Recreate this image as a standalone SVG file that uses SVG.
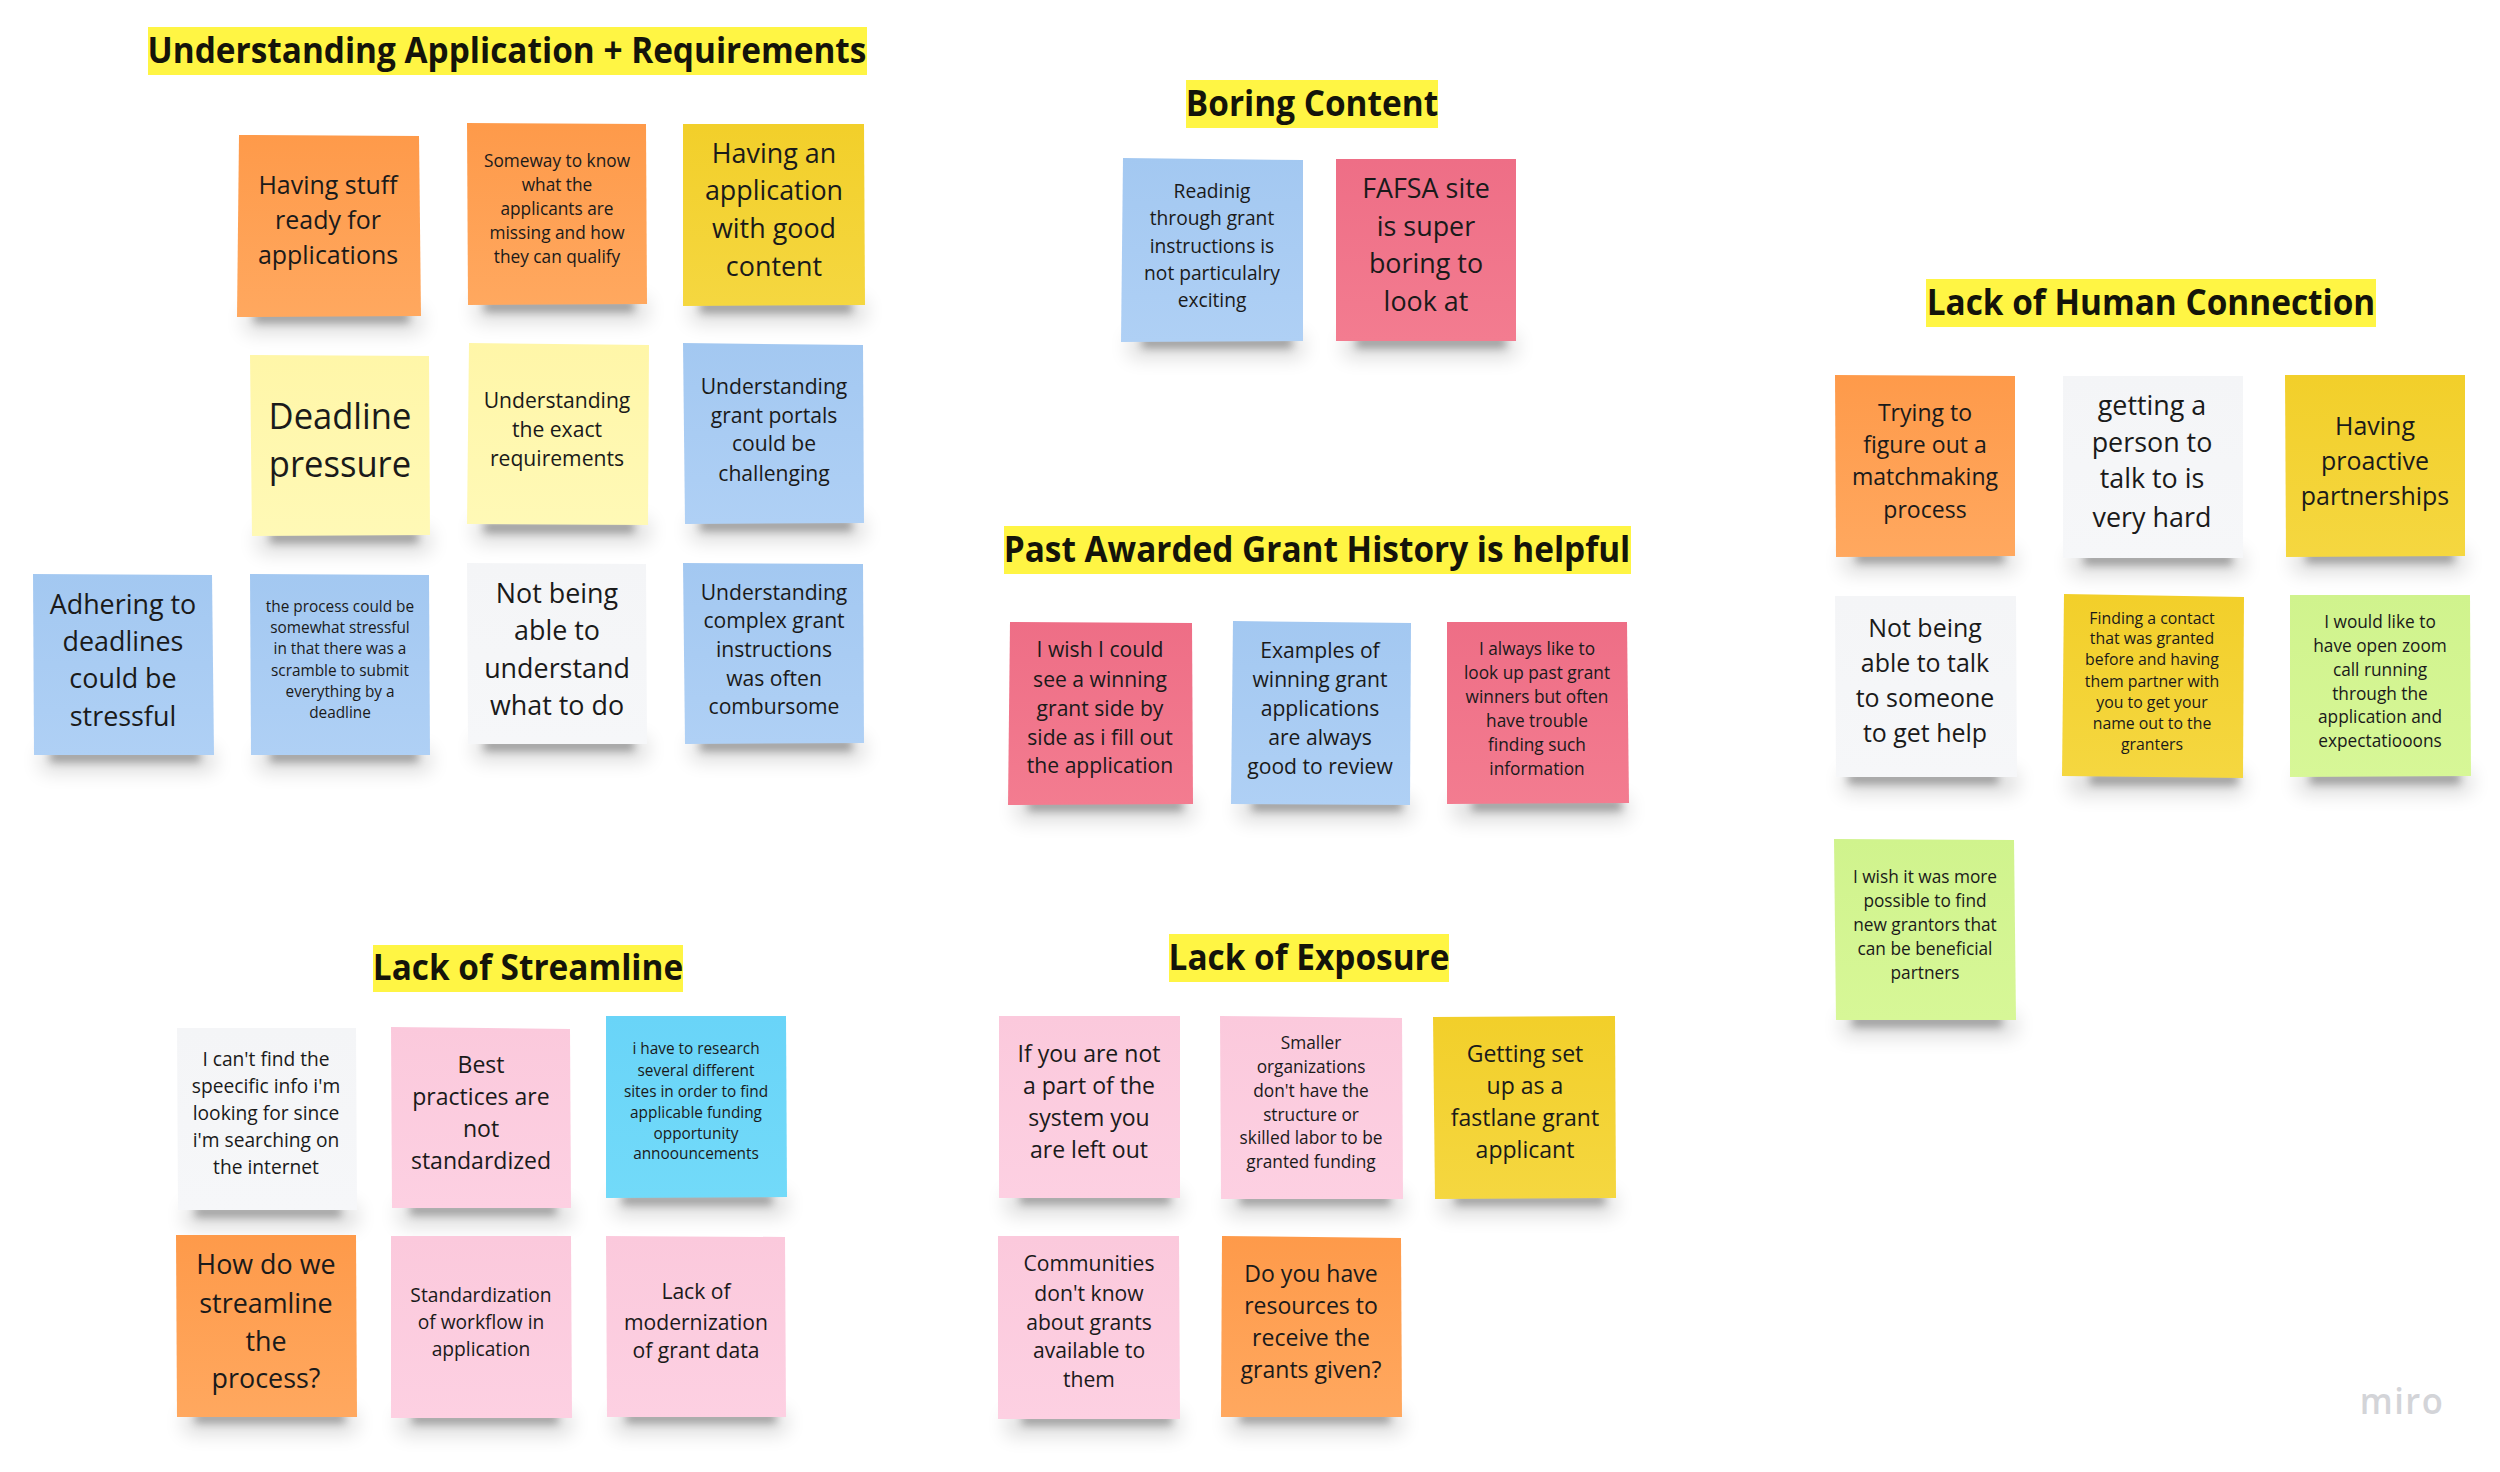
<svg xmlns="http://www.w3.org/2000/svg" width="2500" height="1472" viewBox="0 0 2500 1472">
<defs>
<filter id="blurTight" x="-20%" y="-100%" width="140%" height="300%"><feGaussianBlur stdDeviation="4.5"/></filter>
<filter id="blurWide" x="-20%" y="-100%" width="140%" height="300%"><feGaussianBlur stdDeviation="10"/></filter>
<linearGradient id="g-or" x1="0" y1="0" x2="0" y2="1"><stop offset="0" stop-color="#fe9a4a"/><stop offset="1" stop-color="#ffa85f"/></linearGradient>
<linearGradient id="g-ye" x1="0" y1="0" x2="0" y2="1"><stop offset="0" stop-color="#f2cf2a"/><stop offset="1" stop-color="#f5d740"/></linearGradient>
<linearGradient id="g-ly" x1="0" y1="0" x2="0" y2="1"><stop offset="0" stop-color="#fff6a8"/><stop offset="1" stop-color="#fff9b6"/></linearGradient>
<linearGradient id="g-bl" x1="0" y1="0" x2="0" y2="1"><stop offset="0" stop-color="#a3c8f1"/><stop offset="1" stop-color="#afd0f5"/></linearGradient>
<linearGradient id="g-wh" x1="0" y1="0" x2="0" y2="1"><stop offset="0" stop-color="#f4f5f7"/><stop offset="1" stop-color="#f6f7f9"/></linearGradient>
<linearGradient id="g-pk" x1="0" y1="0" x2="0" y2="1"><stop offset="0" stop-color="#fbc9dc"/><stop offset="1" stop-color="#fdd0e2"/></linearGradient>
<linearGradient id="g-rd" x1="0" y1="0" x2="0" y2="1"><stop offset="0" stop-color="#ee6e86"/><stop offset="1" stop-color="#f37c90"/></linearGradient>
<linearGradient id="g-cy" x1="0" y1="0" x2="0" y2="1"><stop offset="0" stop-color="#69d4f8"/><stop offset="1" stop-color="#72daf9"/></linearGradient>
<linearGradient id="g-lm" x1="0" y1="0" x2="0" y2="1"><stop offset="0" stop-color="#d0f38d"/><stop offset="1" stop-color="#d7f797"/></linearGradient>
</defs>
<style>
text{font-family:"Open Sans","Noto Sans","DejaVu Sans",sans-serif;fill:#1a1a1a;text-anchor:middle;dominant-baseline:central;transform-box:fill-box;transform-origin:center;transform:translateY(-1.5px) scaleX(.96)}
.title text{font-weight:700;font-size:36px;fill:#14140a;transform:translateY(-.5px) scaleX(.927)}
.hl{fill:#fff544}
.sa{fill:#000;opacity:.3;filter:url(#blurTight)}
.sb{fill:#000;opacity:.15;filter:url(#blurWide)}
.or{fill:url(#g-or)}.ye{fill:url(#g-ye)}.ly{fill:url(#g-ly)}.bl{fill:url(#g-bl)}.wh{fill:url(#g-wh)}
.pk{fill:url(#g-pk)}.rd{fill:url(#g-rd)}.cy{fill:url(#g-cy)}.lm{fill:url(#g-lm)}
.s16{font-size:16px}.s165{font-size:16.5px}.s18{font-size:18px}.s20{font-size:20px}
.s22{font-size:22px}.s24{font-size:24px}.s26{font-size:26px}.s28{font-size:28px}.s36{font-size:36px}
#logo{font-size:36px;font-weight:600;fill:#d3d4d8;letter-spacing:1.5px}
</style>
<rect width="2500" height="1472" fill="#fff"/>

<g id="title-understanding" class="title"><rect class="hl" x="148" y="27" width="719" height="48"/><text x="507" y="50">Understanding Application + Requirements</text></g>
<g id="title-boring" class="title"><rect class="hl" x="1186" y="80" width="252" height="48"/><text x="1312" y="103">Boring Content</text></g>
<g id="title-past" class="title"><rect class="hl" x="1004" y="526" width="627" height="48"/><text x="1317" y="549">Past Awarded Grant History is helpful</text></g>
<g id="title-human" class="title"><rect class="hl" x="1926" y="279" width="450" height="48"/><text x="2151" y="302">Lack of Human Connection</text></g>
<g id="title-streamline" class="title"><rect class="hl" x="373" y="945" width="310" height="47"/><text x="528" y="967">Lack of Streamline</text></g>
<g id="title-exposure" class="title"><rect class="hl" x="1169" y="934" width="280" height="48"/><text x="1309" y="957">Lack of Exposure</text></g>

<g id="note-a1"><rect class="sb" x="245" y="310" width="176" height="22"/><rect class="sa" x="254" y="311" width="155" height="12"/><polygon class="or" points="239,135 419,136 421,316 237,317"/><text class="s26"><tspan x="328" y="185">Having stuff</tspan><tspan x="328" y="220">ready for</tspan><tspan x="328" y="255">applications</tspan></text></g>
<g id="note-a2"><rect class="sb" x="475" y="299" width="172" height="22"/><rect class="sa" x="484" y="300" width="150" height="12"/><polygon class="or" points="467,123 646,124 647,304 468,305"/><text class="s18"><tspan x="557" y="161">Someway to know</tspan><tspan x="557" y="185">what the</tspan><tspan x="557" y="209">applicants are</tspan><tspan x="557" y="233">missing and how</tspan><tspan x="557" y="257">they can qualify</tspan></text></g>
<g id="note-a3"><rect class="sb" x="691" y="300" width="174" height="22"/><rect class="sa" x="700" y="301" width="152" height="12"/><polygon class="ye" points="683,124 864,124 865,305 683,306"/><text class="s28"><tspan x="774" y="153">Having an</tspan><tspan x="774" y="190">application</tspan><tspan x="774" y="228">with good</tspan><tspan x="774" y="266">content</tspan></text></g>
<g id="note-a4"><rect class="sb" x="258" y="530" width="172" height="22"/><rect class="sa" x="270" y="531" width="148" height="12"/><polygon class="ly" points="250,355 429,356 430,535 252,536"/><text class="s36"><tspan x="340" y="416">Deadline</tspan><tspan x="340" y="464">pressure</tspan></text></g>
<g id="note-a5"><rect class="sb" x="475" y="520" width="174" height="22"/><rect class="sa" x="484" y="521" width="150" height="12"/><polygon class="ly" points="469,343 649,345 648,525 467,524"/><text class="s22"><tspan x="557" y="400">Understanding</tspan><tspan x="557" y="429">the exact</tspan><tspan x="557" y="458">requirements</tspan></text></g>
<g id="note-a6"><rect class="sb" x="691" y="518" width="173" height="22"/><rect class="sa" x="700" y="519" width="152" height="12"/><polygon class="bl" points="683,343 863,345 864,523 685,524"/><text class="s22"><tspan x="774" y="386">Understanding</tspan><tspan x="774" y="415">grant portals</tspan><tspan x="774" y="443">could be</tspan><tspan x="774" y="473">challenging</tspan></text></g>
<g id="note-a7"><rect class="sb" x="41" y="749" width="173" height="22"/><rect class="sa" x="50" y="750" width="150" height="12"/><polygon class="bl" points="33,574 212,575 214,755 34,755"/><text class="s28"><tspan x="123" y="604">Adhering to</tspan><tspan x="123" y="641">deadlines</tspan><tspan x="123" y="678">could be</tspan><tspan x="123" y="716">stressful</tspan></text></g>
<g id="note-a8"><rect class="sb" x="258" y="749" width="172" height="22"/><rect class="sa" x="270" y="750" width="148" height="12"/><polygon class="bl" points="250,574 429,575 430,755 251,755"/><text class="s16"><tspan x="340" y="607">the process could be</tspan><tspan x="340" y="628">somewhat stressful</tspan><tspan x="340" y="649">in that there was a</tspan><tspan x="340" y="671">scramble to submit</tspan><tspan x="340" y="692">everything by a</tspan><tspan x="340" y="713">deadline</tspan></text></g>
<g id="note-a9"><rect class="sb" x="475" y="738" width="172" height="22"/><rect class="sa" x="484" y="739" width="150" height="12"/><polygon class="wh" points="467,563 646,564 647,744 468,744"/><text class="s28"><tspan x="557" y="593">Not being</tspan><tspan x="557" y="630">able to</tspan><tspan x="557" y="668">understand</tspan><tspan x="557" y="705">what to do</tspan></text></g>
<g id="note-a10"><rect class="sb" x="691" y="738" width="173" height="22"/><rect class="sa" x="700" y="739" width="152" height="12"/><polygon class="bl" points="683,563 863,564 864,743 685,744"/><text class="s22"><tspan x="774" y="592">Understanding</tspan><tspan x="774" y="620">complex grant</tspan><tspan x="774" y="649">instructions</tspan><tspan x="774" y="678">was often</tspan><tspan x="774" y="706">combursome</tspan></text></g>

<g id="note-b1"><rect class="sb" x="1129" y="335" width="174" height="22"/><rect class="sa" x="1142" y="336" width="150" height="12"/><polygon class="bl" points="1123,158 1303,160 1303,341 1121,342"/><text class="s20"><tspan x="1212" y="191">Readinig</tspan><tspan x="1212" y="218">through grant</tspan><tspan x="1212" y="246">instructions is</tspan><tspan x="1212" y="273">not particulalry</tspan><tspan x="1212" y="300">exciting</tspan></text></g>
<g id="note-b2"><rect class="sb" x="1344" y="335" width="172" height="22"/><rect class="sa" x="1356" y="336" width="150" height="12"/><polygon class="rd" points="1336,159 1516,159 1516,341 1336,341"/><text class="s28"><tspan x="1426" y="188">FAFSA site</tspan><tspan x="1426" y="226">is super</tspan><tspan x="1426" y="263">boring to</tspan><tspan x="1426" y="301">look at</tspan></text></g>

<g id="note-p1"><rect class="sb" x="1016" y="798" width="177" height="22"/><rect class="sa" x="1028" y="799" width="155" height="12"/><polygon class="rd" points="1010,622 1192,623 1193,804 1008,805"/><text class="s22"><tspan x="1100" y="649">I wish I could</tspan><tspan x="1100" y="679">see a winning</tspan><tspan x="1100" y="708">grant side by</tspan><tspan x="1100" y="737">side as i fill out</tspan><tspan x="1100" y="765">the application</tspan></text></g>
<g id="note-p2"><rect class="sb" x="1239" y="798" width="172" height="22"/><rect class="sa" x="1252" y="799" width="150" height="12"/><polygon class="bl" points="1233,621 1411,623 1410,805 1231,804"/><text class="s22"><tspan x="1320" y="650">Examples of</tspan><tspan x="1320" y="679">winning grant</tspan><tspan x="1320" y="708">applications</tspan><tspan x="1320" y="737">are always</tspan><tspan x="1320" y="766">good to review</tspan></text></g>
<g id="note-p3"><rect class="sb" x="1454" y="798" width="174" height="22"/><rect class="sa" x="1472" y="799" width="150" height="12"/><polygon class="rd" points="1447,622 1627,622 1629,803 1447,804"/><text class="s18"><tspan x="1537" y="649">I always like to</tspan><tspan x="1537" y="673">look up past grant</tspan><tspan x="1537" y="697">winners but often</tspan><tspan x="1537" y="721">have trouble</tspan><tspan x="1537" y="745">finding such</tspan><tspan x="1537" y="769">information</tspan></text></g>

<g id="note-h1"><rect class="sb" x="1843" y="550" width="172" height="22"/><rect class="sa" x="1856" y="551" width="148" height="12"/><polygon class="or" points="1835,375 2015,376 2015,556 1836,557"/><text class="s24"><tspan x="1925" y="413">Trying to</tspan><tspan x="1925" y="445">figure out a</tspan><tspan x="1925" y="477">matchmaking</tspan><tspan x="1925" y="510">process</tspan></text></g>
<g id="note-h2"><rect class="sb" x="2071" y="552" width="172" height="22"/><rect class="sa" x="2084" y="553" width="148" height="12"/><polygon class="wh" points="2063,376 2243,376 2243,558 2063,558"/><text class="s28"><tspan x="2152" y="405">getting a</tspan><tspan x="2152" y="442">person to</tspan><tspan x="2152" y="478">talk to is</tspan><tspan x="2152" y="517">very hard</tspan></text></g>
<g id="note-h3"><rect class="sb" x="2293" y="550" width="172" height="22"/><rect class="sa" x="2306" y="551" width="148" height="12"/><polygon class="ye" points="2285,375 2465,375 2465,556 2286,557"/><text class="s26"><tspan x="2375" y="426">Having</tspan><tspan x="2375" y="461">proactive</tspan><tspan x="2375" y="496">partnerships</tspan></text></g>
<g id="note-h4"><rect class="sb" x="1843" y="771" width="174" height="22"/><rect class="sa" x="1848" y="772" width="150" height="12"/><polygon class="wh" points="1835,596 2016,596 2017,777 1836,777"/><text class="s26"><tspan x="1925" y="628">Not being</tspan><tspan x="1925" y="663">able to talk</tspan><tspan x="1925" y="698">to someone</tspan><tspan x="1925" y="733">to get help</tspan></text></g>
<g id="note-h5"><rect class="sb" x="2070" y="772" width="174" height="22"/><rect class="sa" x="2090" y="773" width="148" height="12"/><polygon class="ye" points="2064,594 2244,597 2243,778 2062,776"/><text class="s165"><tspan x="2152" y="619">Finding a contact</tspan><tspan x="2152" y="639">that was granted</tspan><tspan x="2152" y="660">before and having</tspan><tspan x="2152" y="682">them partner with</tspan><tspan x="2152" y="703">you to get your</tspan><tspan x="2152" y="724">name out to the</tspan><tspan x="2152" y="745">granters</tspan></text></g>
<g id="note-h6"><rect class="sb" x="2298" y="771" width="173" height="22"/><rect class="sa" x="2310" y="772" width="150" height="12"/><polygon class="lm" points="2290,595 2470,595 2471,776 2290,777"/><text class="s18"><tspan x="2380" y="622">I would like to</tspan><tspan x="2380" y="646">have open zoom</tspan><tspan x="2380" y="670">call running</tspan><tspan x="2380" y="694">through the</tspan><tspan x="2380" y="717">application and</tspan><tspan x="2380" y="741">expectatiooons</tspan></text></g>
<g id="note-h7"><rect class="sb" x="1842" y="1014" width="174" height="22"/><rect class="sa" x="1852" y="1015" width="150" height="12"/><polygon class="lm" points="1834,839 2014,840 2016,1020 1836,1020"/><text class="s18"><tspan x="1925" y="877">I wish it was more</tspan><tspan x="1925" y="901">possible to find</tspan><tspan x="1925" y="925">new grantors that</tspan><tspan x="1925" y="949">can be beneficial</tspan><tspan x="1925" y="973">partners</tspan></text></g>

<g id="note-s1"><rect class="sb" x="185" y="1205" width="172" height="22"/><rect class="sa" x="195" y="1206" width="146" height="11"/><polygon class="wh" points="177,1028 356,1028 357,1210 178,1210"/><text class="s20"><tspan x="266" y="1059">I can't find the</tspan><tspan x="266" y="1086">speecific info i'm</tspan><tspan x="266" y="1113">looking for since</tspan><tspan x="266" y="1140">i'm searching on</tspan><tspan x="266" y="1167">the internet</tspan></text></g>
<g id="note-s2"><rect class="sb" x="399" y="1203" width="172" height="22"/><rect class="sa" x="410" y="1204" width="146" height="11"/><polygon class="pk" points="391,1027 570,1029 571,1208 392,1208"/><text class="s24"><tspan x="481" y="1065">Best</tspan><tspan x="481" y="1097">practices are</tspan><tspan x="481" y="1129">not</tspan><tspan x="481" y="1161">standardized</tspan></text></g>
<g id="note-s3"><rect class="sb" x="614" y="1193" width="172" height="22"/><rect class="sa" x="622" y="1194" width="150" height="11"/><polygon class="cy" points="606,1016 786,1016 787,1197 606,1198"/><text class="s16"><tspan x="696" y="1049">i have to research</tspan><tspan x="696" y="1071">several different</tspan><tspan x="696" y="1092">sites in order to find</tspan><tspan x="696" y="1113">applicable funding</tspan><tspan x="696" y="1134">opportunity</tspan><tspan x="696" y="1154">annoouncements</tspan></text></g>
<g id="note-s4"><rect class="sb" x="184" y="1411" width="172" height="22"/><rect class="sa" x="195" y="1412" width="150" height="11"/><polygon class="or" points="176,1235 356,1235 357,1417 177,1417"/><text class="s28"><tspan x="266" y="1264">How do we</tspan><tspan x="266" y="1303">streamline</tspan><tspan x="266" y="1341">the</tspan><tspan x="266" y="1378">process?</tspan></text></g>
<g id="note-s5"><rect class="sb" x="399" y="1412" width="172" height="22"/><rect class="sa" x="412" y="1413" width="146" height="11"/><polygon class="pk" points="391,1236 571,1236 572,1418 391,1418"/><text class="s20"><tspan x="481" y="1295">Standardization</tspan><tspan x="481" y="1322">of workflow in</tspan><tspan x="481" y="1349">application</tspan></text></g>
<g id="note-s6"><rect class="sb" x="614" y="1411" width="172" height="22"/><rect class="sa" x="626" y="1412" width="150" height="11"/><polygon class="pk" points="606,1236 785,1237 786,1417 607,1417"/><text class="s22"><tspan x="696" y="1291">Lack of</tspan><tspan x="696" y="1322">modernization</tspan><tspan x="696" y="1350">of grant data</tspan></text></g>

<g id="note-e1"><rect class="sb" x="1006" y="1192" width="174" height="22"/><rect class="sa" x="1020" y="1193" width="150" height="11"/><polygon class="pk" points="999,1016 1180,1016 1180,1198 999,1198"/><text class="s24"><tspan x="1089" y="1054">If you are not</tspan><tspan x="1089" y="1086">a part of the</tspan><tspan x="1089" y="1118">system you</tspan><tspan x="1089" y="1150">are left out</tspan></text></g>
<g id="note-e2"><rect class="sb" x="1228" y="1193" width="175" height="22"/><rect class="sa" x="1240" y="1194" width="150" height="11"/><polygon class="pk" points="1220,1016 1402,1018 1403,1199 1221,1199"/><text class="s18"><tspan x="1311" y="1043">Smaller</tspan><tspan x="1311" y="1067">organizations</tspan><tspan x="1311" y="1091">don't have the</tspan><tspan x="1311" y="1115">structure or</tspan><tspan x="1311" y="1138">skilled labor to be</tspan><tspan x="1311" y="1162">granted funding</tspan></text></g>
<g id="note-e3"><rect class="sb" x="1441" y="1193" width="174" height="22"/><rect class="sa" x="1455" y="1194" width="150" height="11"/><polygon class="ye" points="1433,1017 1615,1016 1616,1198 1435,1199"/><text class="s24"><tspan x="1525" y="1054">Getting set</tspan><tspan x="1525" y="1086">up as a</tspan><tspan x="1525" y="1118">fastlane grant</tspan><tspan x="1525" y="1150">applicant</tspan></text></g>
<g id="note-e4"><rect class="sb" x="1006" y="1413" width="174" height="22"/><rect class="sa" x="1022" y="1414" width="150" height="11"/><polygon class="pk" points="998,1236 1179,1236 1180,1419 998,1419"/><text class="s22"><tspan x="1089" y="1263">Communities</tspan><tspan x="1089" y="1293">don't know</tspan><tspan x="1089" y="1322">about grants</tspan><tspan x="1089" y="1350">available to</tspan><tspan x="1089" y="1379">them</tspan></text></g>
<g id="note-e5"><rect class="sb" x="1229" y="1411" width="173" height="22"/><rect class="sa" x="1240" y="1412" width="150" height="11"/><polygon class="or" points="1222,1236 1401,1238 1402,1417 1221,1417"/><text class="s24"><tspan x="1311" y="1274">Do you have</tspan><tspan x="1311" y="1306">resources to</tspan><tspan x="1311" y="1338">receive the</tspan><tspan x="1311" y="1370">grants given?</tspan></text></g>

<text id="logo" x="2402" y="1401">miro</text>
</svg>
